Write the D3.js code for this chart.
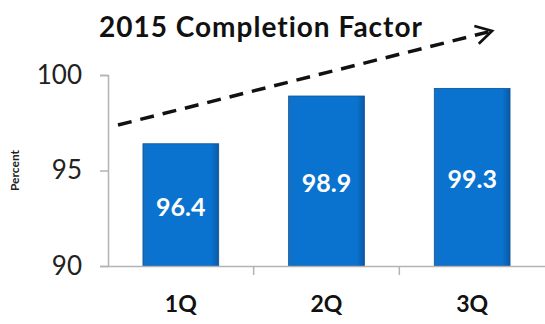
<!DOCTYPE html>
<html>
<head>
<meta charset="utf-8">
<script src="https://cdn.jsdelivr.net/npm/d3@7"></script>
<style>
  body { margin: 0; background: #fff; }
  text { font-family: Lato, "Open Sans", sans-serif; }
</style>
</head>
<body>
<script>
var categories = ["1Q", "2Q", "3Q"];
var values = [96.4, 98.9, 99.3];
var yTicks = [90, 95, 100];

var width = 545, height = 324;
var margin = {top: 75, right: 0, bottom: 58, left: 108};

var svg = d3.select("body").append("svg")
    .attr("width", width).attr("height", height);

var x = d3.scaleBand().domain(categories)
    .range([margin.left, width - margin.right])
    .paddingInner(0.48).paddingOuter(0.24);
var y = d3.scaleLinear().domain([90, 100])
    .range([height - margin.bottom, margin.top]);

var defs = svg.append("defs");
var grad = defs.append("linearGradient").attr("id", "barg")
    .attr("x1", 0).attr("x2", 1).attr("y1", 0).attr("y2", 0);
grad.append("stop").attr("offset", "0%").attr("stop-color", "#1470c4");
grad.append("stop").attr("offset", "10%").attr("stop-color", "#0a72cf");
grad.append("stop").attr("offset", "90%").attr("stop-color", "#0a72cf");
grad.append("stop").attr("offset", "100%").attr("stop-color", "#0a5aa5");

// bars
svg.selectAll("rect.bar")
    .data(values)
    .join("rect")
    .attr("class", "bar")
    .attr("x", function(d, i) { return x(categories[i]); })
    .attr("y", function(d) { return y(d); })
    .attr("width", x.bandwidth())
    .attr("height", function(d) { return y(90) - y(d); })
    .attr("fill", "url(#barg)")
    .attr("stroke", "#0a5296")
    .attr("stroke-width", 0.8);

// bar value labels
svg.selectAll("text.val")
    .data(values)
    .join("text")
    .attr("class", "val")
    .attr("x", function(d, i) { return x(categories[i]) + x.bandwidth() / 2; })
    .attr("y", function(d) { return (y(d) + y(90)) / 2 + 11; })
    .attr("text-anchor", "middle")
    .attr("fill", "#fff")
    .attr("font-weight", "bold")
    .attr("font-size", 25)
    .text(function(d) { return d.toFixed(1); });

// y axis
var yAxis = svg.append("g")
    .attr("transform", "translate(" + margin.left + ",0)")
    .call(d3.axisLeft(y).tickValues(yTicks).tickSize(8).tickPadding(18));
yAxis.select(".domain").attr("stroke", "#b3b3b3").attr("stroke-width", 1.5);
yAxis.selectAll(".tick line").attr("stroke", "#b3b3b3").attr("stroke-width", 1.5);
yAxis.selectAll(".tick text")
    .attr("font-size", 26).attr("fill", "#222")
    .attr("font-family", "Lato, sans-serif");

// x axis
var xAxis = svg.append("g")
    .attr("transform", "translate(0," + y(90) + ")")
    .call(d3.axisBottom(x).tickSize(0).tickPadding(30));
xAxis.select(".domain").attr("stroke", "#b3b3b3").attr("stroke-width", 1.5);
xAxis.selectAll(".tick text")
    .attr("font-size", 23).attr("font-weight", "bold").attr("fill", "#111")
    .attr("font-family", "Lato, sans-serif");
// separators between categories
xAxis.selectAll("line.sep")
    .data(categories.slice(1))
    .join("line")
    .attr("class", "sep")
    .attr("x1", function(d) { return x(d) - x.step() * x.paddingInner() / 2; })
    .attr("x2", function(d) { return x(d) - x.step() * x.paddingInner() / 2; })
    .attr("y1", 0).attr("y2", 9)
    .attr("stroke", "#b3b3b3").attr("stroke-width", 1.5);

// y label
svg.append("text")
    .attr("transform", "translate(19," + y(95) + ") rotate(-90)")
    .attr("text-anchor", "middle")
    .attr("font-size", 12)
    .attr("font-weight", "bold")
    .attr("fill", "#222")
    .text("Percent");

// title
svg.append("text")
    .attr("x", 261).attr("y", 37)
    .attr("text-anchor", "middle")
    .attr("font-size", 28)
    .attr("letter-spacing", 1)
    .attr("font-weight", "bold")
    .attr("fill", "#111")
    .text("2015 Completion Factor");

// trend arrow
defs.append("marker").attr("id", "arr")
    .attr("viewBox", "0 0 10 10").attr("refX", 8).attr("refY", 5)
    .attr("markerWidth", 6.5).attr("markerHeight", 6.5)
    .attr("markerUnits", "strokeWidth")
    .attr("orient", "auto")
    .append("path").attr("d", "M1,1 L8,5 L1,9")
    .attr("fill", "none").attr("stroke", "#111").attr("stroke-width", 1.2);

svg.append("line")
    .attr("x1", 118).attr("y1", 125)
    .attr("x2", 492).attr("y2", 31)
    .attr("stroke", "#111").attr("stroke-width", 3.5)
    .attr("stroke-dasharray", "14,9")
    .attr("marker-end", "url(#arr)");
</script>
</body>
</html>
